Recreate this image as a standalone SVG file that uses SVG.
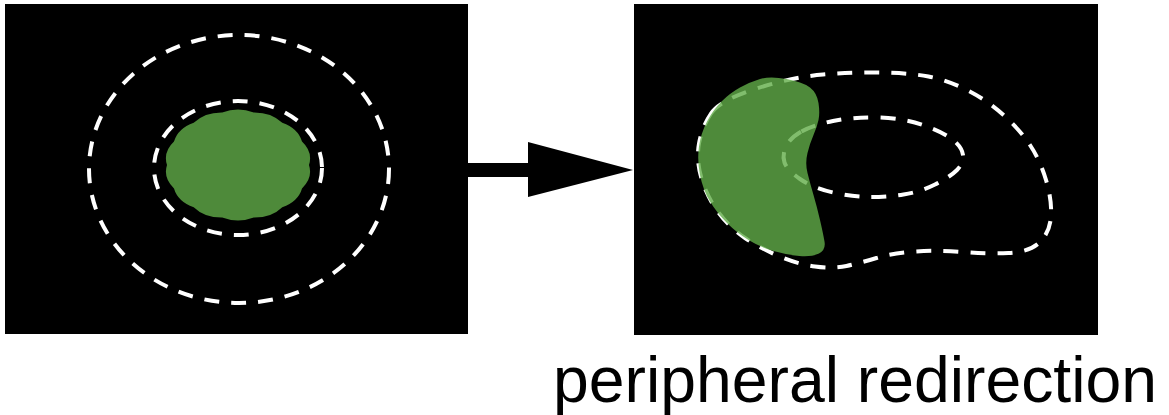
<svg xmlns="http://www.w3.org/2000/svg" width="1169" height="415" viewBox="0 0 1169 415">
  <style>
    .panel { fill: #000000; }
    .dash { fill: none; stroke: #ffffff; stroke-width: 4; stroke-dasharray: 15 12; stroke-linecap: butt; }
    .label { font-family: "Liberation Sans", Arial, sans-serif; font-size: 65px; fill: #000000; }
  </style>
  <rect width="1169" height="415" fill="#ffffff"/>
  <g id="panel-before">
    <rect class="panel" x="5" y="4" width="463" height="330"/>
    <ellipse class="dash" cx="239" cy="169" rx="150" ry="134"/>
    <ellipse class="dash" cx="238" cy="168" rx="84" ry="67"/>
    <path id="blob-before" fill="#4e8a3a" d="M309,165 Q313.1,178 302,188.4 Q298.2,201.5 282.3,207.2 Q271.4,217.8 253.8,217.6 Q238,223.6 222.2,217.6 Q204.6,217.8 193.7,207.2 Q177.8,201.5 174,188.4 Q162.9,178 167,165 Q162.9,152 174,141.6 Q177.8,128.5 193.7,122.8 Q204.6,112.2 222.2,112.4 Q238,106.4 253.8,112.4 Q271.4,112.2 282.3,122.8 Q298.2,128.5 302,141.6 Q313.1,152 309,165 Z"/>
  </g>
  <g id="panel-after">
    <rect class="panel" x="634" y="4" width="464" height="331"/>
    <path class="dash" d="M711,113.5 Q720,100 756.5,88.5 Q793,77 823,74.5 Q853,72 881.5,72.5 Q910,73 928.5,76.5 Q947,80 967,90 Q987,100 1003.5,115 Q1020,130 1030,145 Q1040,160 1046,180 Q1052,200 1051,216 Q1050,232 1040,242 Q1030,252 1008.5,253 Q987,254 962,252 Q937,250 915,251.5 Q893,253 876.5,258 Q860,263 846.5,266 Q833,269 815,266.5 Q797,264 778.5,256 Q760,248 745,238 Q730,228 718.5,212.5 Q707,197 701.5,178.5 Q696,160 699,143.5 Q702,127 711,113.5 Z"/>
    <path class="dash" d="M801.5,131.5 Q813,125 833,121 Q853,117 878,117.5 Q903,118 923,125 Q943,132 952.5,139.5 Q962,147 963,155 Q964,163 957,170 Q950,177 935,184.5 Q920,192 903.5,194.5 Q887,197 870,197 Q853,197 833,192.5 Q813,188 800,179 Q787,170 784.5,162.5 Q782,155 786,146.5 Q790,138 801.5,131.5 Z"/>
    <path id="blob-after" fill="#62ad49" fill-opacity="0.8" d="M760,79 Q770,76 786.5,79 Q803,82 810,87.5 Q817,93 818.5,103 Q820,113 818.5,120 Q817,127 813.5,135 Q810,143 807.5,153 Q805,163 807.5,173 Q810,183 813.5,195 Q817,207 820,220 Q823,233 824.5,241.5 Q826,250 819,253.5 Q812,257 799.5,256 Q787,255 773.5,251 Q760,247 748.5,240 Q737,233 727,223 Q717,213 710,201.5 Q703,190 700,175 Q697,160 699,146.5 Q701,133 707,121.5 Q713,110 721.5,101.5 Q730,93 740,87.5 Q750,82 760,79 Z"/>
  </g>
  <g id="connectors">
    <rect x="466" y="163" width="64" height="14" fill="#000000"/>
    <polygon points="528,142 633,170 528,197" fill="#000000"/>
  </g>
  <g id="caption">
    <text class="label" x="553" y="402" textLength="604" lengthAdjust="spacingAndGlyphs">peripheral redirection</text>
  </g>
</svg>
